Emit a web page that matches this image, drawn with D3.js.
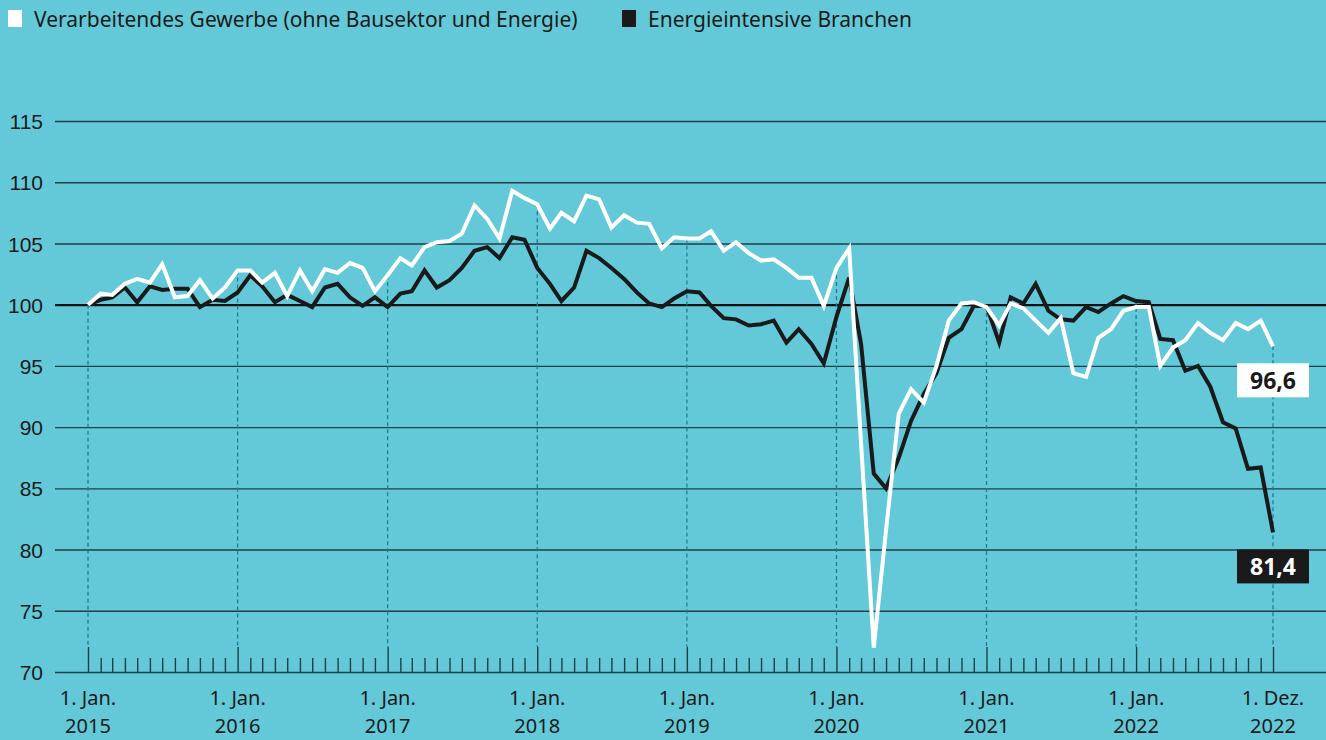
<html>
<head>
<meta charset="utf-8">
<script src="https://d3js.org/d3.v7.min.js"></script>
<style>
  body { margin: 0; background: #63c9d8; }
  svg { display: block; font-family: "Noto Sans", sans-serif; }
</style>
</head>
<body>
<svg id="chart" width="1326" height="740"></svg>
<script>
// Monatswerte Jan. 2015 bis Dez. 2022 (Index)
var seriesNames = ["Verarbeitendes Gewerbe (ohne Bausektor und Energie)", "Energieintensive Branchen"];

var gewerbe = [
  100.0, 100.9, 100.8, 101.7, 102.1, 101.8, 103.3, 100.6, 100.7, 102.0, 100.5, 101.4,
  102.8, 102.8, 101.8, 102.6, 100.7, 102.8, 101.1, 102.9, 102.6, 103.4, 103.0, 101.1,
  102.4, 103.8, 103.2, 104.7, 105.1, 105.2, 105.8, 108.1, 107.0, 105.4, 109.3, 108.7,
  108.2, 106.2, 107.5, 106.8, 108.9, 108.6, 106.3, 107.3, 106.7, 106.6, 104.6, 105.5,
  105.4, 105.4, 106.0, 104.4, 105.1, 104.2, 103.6, 103.7, 103.0, 102.2, 102.2, 99.9,
  103.0, 104.6, 88.7, 72.0, 81.6, 91.1, 93.1, 92.0, 95.0, 98.7, 100.1, 100.2,
  99.8, 98.3, 100.1, 99.7, 98.7, 97.7, 98.9, 94.4, 94.1, 97.3, 98.0, 99.5,
  99.8, 99.8, 95.0, 96.5, 97.1, 98.5, 97.7, 97.1, 98.5, 98.0, 98.7, 96.6
];

var energie = [
  100.0, 100.4, 100.6, 101.4, 100.2, 101.5, 101.2, 101.3, 101.3, 99.8, 100.4, 100.3,
  101.0, 102.4, 101.5, 100.2, 100.8, 100.3, 99.8, 101.4, 101.7, 100.6, 99.9, 100.6,
  99.8, 100.9, 101.1, 102.8, 101.4, 102.0, 103.0, 104.4, 104.7, 103.8, 105.5, 105.3,
  103.0, 101.7, 100.3, 101.4, 104.4, 103.8, 103.0, 102.1, 101.0, 100.1, 99.8, 100.5,
  101.1, 101.0, 99.9, 98.9, 98.8, 98.3, 98.4, 98.7, 96.9, 98.0, 96.8, 95.2,
  99.0, 102.2, 96.8, 86.2, 85.0, 87.5, 90.5, 92.7, 94.4, 97.3, 98.0, 99.9,
  99.9, 96.9, 100.6, 100.1, 101.7, 99.5, 98.8, 98.7, 99.8, 99.4, 100.1, 100.7,
  100.3, 100.2, 97.2, 97.1, 94.6, 95.0, 93.3, 90.4, 89.9, 86.6, 86.7, 81.4
];

var yTicks = [70, 75, 80, 85, 90, 95, 100, 105, 110, 115];
var xLabelLines = [
  ["1. Jan.", "2015"], ["1. Jan.", "2016"], ["1. Jan.", "2017"], ["1. Jan.", "2018"],
  ["1. Jan.", "2019"], ["1. Jan.", "2020"], ["1. Jan.", "2021"], ["1. Jan.", "2022"],
  ["1. Dez.", "2022"]
];
var endLabels = ["96,6", "81,4"];

var months = d3.range(gewerbe.length).map(function(i) { return new Date(2015, i, 1); });
var labelIdx = [0, 12, 24, 36, 48, 60, 72, 84, 95];
var labelDates = labelIdx.map(function(i) { return months[i]; });

var svg = d3.select("#chart");
var W = 1326;
var left = 55, plotTop = 121, plotBottom = 672;

var x = d3.scaleTime().domain([months[0], months[months.length - 1]]).range([88, 1273]);
var y = d3.scaleLinear().domain([70, 115]).range([plotBottom, plotTop]);

// Gitterlinien
var yAxis = svg.append("g")
  .attr("transform", "translate(" + left + ",0)")
  .call(d3.axisLeft(y).tickValues(yTicks).tickSize(-(W - left)).tickPadding(12));
yAxis.select(".domain").remove();
yAxis.selectAll(".tick line")
  .attr("stroke-width", function(d) { return d === 100 ? 2.4 : 1.4; })
  .attr("stroke", function(d) { return d === 100 ? "#111" : "#1f3f47"; });
yAxis.selectAll(".tick text")
  .attr("fill", "#1a1a1a")
  .attr("dy", "0.36em")
  .style("font-size", "21px");

// gestrichelte Linien je Januar
svg.append("g").selectAll("line")
  .data(labelIdx)
  .enter().append("line")
  .attr("x1", function(i) { return x(months[i]); })
  .attr("x2", function(i) { return x(months[i]); })
  .attr("y1", function(i) { return y(Math.max(gewerbe[i], energie[i])); })
  .attr("y2", plotBottom - 25)
  .attr("stroke", "#1d7f90")
  .attr("stroke-width", 1.3)
  .attr("stroke-dasharray", "4,3");

// Monatsstriche
var xAxis = svg.append("g")
  .attr("transform", "translate(0," + plotBottom + ")")
  .call(d3.axisTop(x).tickValues(months).tickSize(14).tickFormat("").tickSizeOuter(0));
xAxis.select(".domain").remove();
xAxis.selectAll(".tick line")
  .attr("stroke", "#1f3f47")
  .attr("stroke-width", 1.4)
  .attr("y2", function(d, i) { return (i % 12 === 0 || i === 95) ? -25 : -14; });

// Beschriftung x (zwei Zeilen)
var xg = svg.append("g");
[0, 1].forEach(function(row) {
  xg.selectAll("text.row" + row)
    .data(labelDates)
    .enter().append("text")
    .attr("class", "row" + row)
    .attr("x", function(d) { return x(d); })
    .attr("y", row === 0 ? 705 : 733)
    .attr("text-anchor", "middle")
    .attr("fill", "#1a1a1a")
    .style("font-size", "20px")
    .text(function(d, i) { return xLabelLines[i][row]; });
});

// Linien
var line = d3.line()
  .x(function(d, i) { return x(months[i]); })
  .y(function(d) { return y(d); });

svg.append("path")
  .datum(energie)
  .attr("d", line)
  .attr("fill", "none")
  .attr("stroke", "#1a1a1a")
  .attr("stroke-width", 4)
  .attr("stroke-linejoin", "miter");

svg.append("path")
  .datum(gewerbe)
  .attr("d", line)
  .attr("fill", "none")
  .attr("stroke", "#ffffff")
  .attr("stroke-width", 4)
  .attr("stroke-linejoin", "miter");

// Endwerte
var last = months.length - 1;
var boxes = [
  { label: endLabels[0], bg: "#ffffff", fg: "#1a1a1a", yc: y(gewerbe[last]) + 34 },
  { label: endLabels[1], bg: "#1a1a1a", fg: "#ffffff", yc: y(energie[last]) + 34 }
];
var bx = svg.append("g").selectAll("g")
  .data(boxes)
  .enter().append("g")
  .attr("transform", function(d) { return "translate(" + x(months[last]) + "," + d.yc + ")"; });
bx.append("rect")
  .attr("x", -36).attr("y", -17)
  .attr("width", 72).attr("height", 34)
  .attr("fill", function(d) { return d.bg; });
bx.append("text")
  .attr("text-anchor", "middle")
  .attr("dy", "0.36em")
  .attr("fill", function(d) { return d.fg; })
  .style("font-size", "23px")
  .style("font-weight", "bold")
  .text(function(d) { return d.label; });

// Legende
var legend = svg.append("g");
var legX = [8, 622];
var legColors = ["#ffffff", "#1a1a1a"];
seriesNames.forEach(function(name, i) {
  legend.append("rect")
    .attr("x", legX[i]).attr("y", 10)
    .attr("width", 14).attr("height", 17)
    .attr("fill", legColors[i]);
  legend.append("text")
    .attr("x", legX[i] + 26).attr("y", 27)
    .attr("fill", "#1a1a1a")
    .style("font-size", "21px")
    .text(name);
});
</script>
</body>
</html>
